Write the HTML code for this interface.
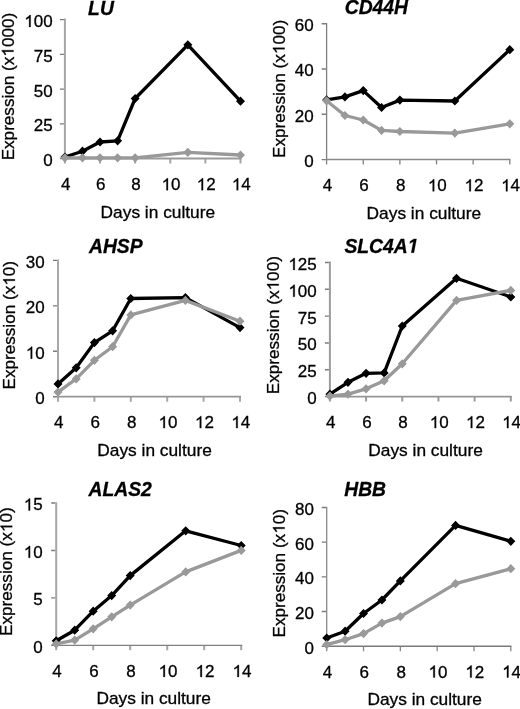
<!DOCTYPE html>
<html><head><meta charset="utf-8"><style>
html,body{margin:0;padding:0;background:#fff;overflow:hidden;}
svg{display:block;will-change:transform;}
text{font-family:"Liberation Sans",sans-serif;font-size:17px;fill:#000;stroke:#000;stroke-width:0.3px;}
text.t{font-weight:bold;font-style:italic;font-size:19.3px;}
g>path{fill:#000;stroke:#000;stroke-width:0.3px;}
svg{font-kerning:none;}
</style></head><body>
<svg width="520" height="709" viewBox="0 0 520 709">
<rect width="520" height="709" fill="#fff"/>
<path d="M64.9 18.6V159.6 M64.9 158.6V163.6 M100.02 158.6V163.6 M135.14 158.6V163.6 M170.26 158.6V163.6 M205.38 158.6V163.6 M240.5 158.6V163.6" fill="none" stroke="#a6a6a6" stroke-width="2"/>
<path d="M64.9 158.6H241.5" fill="none" stroke="#9a9a9a" stroke-width="2"/>
<path d="M59.9 158.6H63.9 M59.9 123.85H63.9 M59.9 89.1H63.9 M59.9 54.35H63.9 M59.9 19.6H63.9" fill="none" stroke="#7c7c7c" stroke-width="1.4"/>
<g transform="translate(52.65 166) scale(1.0 1.02)"><text x="-9.45" y="0">0</text></g>
<g transform="translate(52.65 131.25) scale(1.0 1.02)"><text x="-18.91" y="0">25</text></g>
<g transform="translate(52.65 96.5) scale(1.0 1.02)"><text x="-18.91" y="0">50</text></g>
<g transform="translate(52.65 61.75) scale(1.0 1.02)"><text x="-18.91" y="0">75</text></g>
<g transform="translate(52.65 27) scale(1.0 1.02)"><path d="M-22.03 0L-23.52 0L-23.52 -9.16C-23.88 -8.82 -24.35 -8.49 -24.94 -8.17C-25.52 -7.84 -26.04 -7.59 -26.51 -7.42L-26.51 -8.82C-25.68 -9.19 -24.96 -9.65 -24.34 -10.18C-23.72 -10.71 -23.28 -11.21 -23.02 -11.7L-22.03 -11.7Z"/><text x="-18.91" y="0">00</text></g>
<g transform="translate(65.7 190.2) scale(1.0 1.02)"><text x="-4.73" y="0">4</text></g>
<g transform="translate(100.82 190.2) scale(1.0 1.02)"><text x="-4.73" y="0">6</text></g>
<g transform="translate(135.94 190.2) scale(1.0 1.02)"><text x="-4.73" y="0">8</text></g>
<g transform="translate(171.06 190.2) scale(1.0 1.02)"><path d="M-3.12 0L-4.62 0L-4.62 -9.16C-4.97 -8.82 -5.45 -8.49 -6.03 -8.17C-6.61 -7.84 -7.13 -7.59 -7.6 -7.42L-7.6 -8.82C-6.77 -9.19 -6.05 -9.65 -5.43 -10.18C-4.81 -10.71 -4.37 -11.21 -4.11 -11.7L-3.12 -11.7Z"/><text x="0" y="0">0</text></g>
<g transform="translate(206.18 190.2) scale(1.0 1.02)"><path d="M-3.12 0L-4.62 0L-4.62 -9.16C-4.97 -8.82 -5.45 -8.49 -6.03 -8.17C-6.61 -7.84 -7.13 -7.59 -7.6 -7.42L-7.6 -8.82C-6.77 -9.19 -6.05 -9.65 -5.43 -10.18C-4.81 -10.71 -4.37 -11.21 -4.11 -11.7L-3.12 -11.7Z"/><text x="0" y="0">2</text></g>
<g transform="translate(241.3 190.2) scale(1.0 1.02)"><path d="M-3.12 0L-4.62 0L-4.62 -9.16C-4.97 -8.82 -5.45 -8.49 -6.03 -8.17C-6.61 -7.84 -7.13 -7.59 -7.6 -7.42L-7.6 -8.82C-6.77 -9.19 -6.05 -9.65 -5.43 -10.18C-4.81 -10.71 -4.37 -11.21 -4.11 -11.7L-3.12 -11.7Z"/><text x="0" y="0">4</text></g>
<g transform="translate(88.1 14.6) scale(1.0 1.04)"><text x="0" y="0" class="t">LU</text></g>
<g transform="translate(13.5 86.55) rotate(-90) scale(1.008 1)"><text x="-73.23" y="0">Expression (x</text><path d="M36.08 0L34.59 0L34.59 -9.16C34.23 -8.82 33.76 -8.49 33.18 -8.17C32.6 -7.84 32.07 -7.59 31.6 -7.42L31.6 -8.82C32.43 -9.19 33.15 -9.65 33.78 -10.18C34.4 -10.71 34.84 -11.21 35.1 -11.7L36.08 -11.7Z"/><text x="39.2" y="0">000)</text></g>
<text x="100.6" y="217.8" textLength="114.5" lengthAdjust="spacingAndGlyphs">Days in culture</text>
<polyline points="64.9,157 82.46,151.2 100.02,142 117.58,140.8 135.14,98.5 187.82,44.8 240.5,101.2" fill="none" stroke="#000000" stroke-width="3.3" stroke-linejoin="round"/>
<path d="M64.9 152.4L69.4 157L64.9 161.6L60.4 157Z M82.46 146.6L86.96 151.2L82.46 155.8L77.96 151.2Z M100.02 137.4L104.52 142L100.02 146.6L95.52 142Z M117.58 136.2L122.08 140.8L117.58 145.4L113.08 140.8Z M135.14 93.9L139.64 98.5L135.14 103.1L130.64 98.5Z M187.82 40.2L192.32 44.8L187.82 49.4L183.32 44.8Z M240.5 96.6L245 101.2L240.5 105.8L236 101.2Z" fill="#000000"/>
<polyline points="64.9,157.8 82.46,157.8 100.02,157.8 117.58,157.8 135.14,157.8 187.82,152.3 240.5,155" fill="none" stroke="#999999" stroke-width="3.3" stroke-linejoin="round"/>
<path d="M64.9 153.2L69.4 157.8L64.9 162.4L60.4 157.8Z M82.46 153.2L86.96 157.8L82.46 162.4L77.96 157.8Z M100.02 153.2L104.52 157.8L100.02 162.4L95.52 157.8Z M117.58 153.2L122.08 157.8L117.58 162.4L113.08 157.8Z M135.14 153.2L139.64 157.8L135.14 162.4L130.64 157.8Z M187.82 147.7L192.32 152.3L187.82 156.9L183.32 152.3Z M240.5 150.4L245 155L240.5 159.6L236 155Z" fill="#999999"/>
<path d="M326.6 22.95V160.35 M326.6 159.6V164.6 M363.24 159.6V164.6 M399.88 159.6V164.6 M436.52 159.6V164.6 M473.16 159.6V164.6 M509.8 159.6V164.6" fill="none" stroke="#808080" stroke-width="1.3"/>
<path d="M326.6 159.6H510.45" fill="none" stroke="#888888" stroke-width="1.5"/>
<path d="M321.6 159.6H325.95 M321.6 114.3H325.95 M321.6 69H325.95 M321.6 23.7H325.95" fill="none" stroke="#7c7c7c" stroke-width="1.4"/>
<g transform="translate(313.75 167) scale(1.0 1.02)"><text x="-9.45" y="0">0</text></g>
<g transform="translate(313.75 121.7) scale(1.0 1.02)"><text x="-18.91" y="0">20</text></g>
<g transform="translate(313.75 76.4) scale(1.0 1.02)"><text x="-18.91" y="0">40</text></g>
<g transform="translate(313.75 31.1) scale(1.0 1.02)"><text x="-18.91" y="0">60</text></g>
<g transform="translate(327.4 191.3) scale(1.0 1.02)"><text x="-4.73" y="0">4</text></g>
<g transform="translate(364.04 191.3) scale(1.0 1.02)"><text x="-4.73" y="0">6</text></g>
<g transform="translate(400.68 191.3) scale(1.0 1.02)"><text x="-4.73" y="0">8</text></g>
<g transform="translate(437.32 191.3) scale(1.0 1.02)"><path d="M-3.12 0L-4.62 0L-4.62 -9.16C-4.97 -8.82 -5.45 -8.49 -6.03 -8.17C-6.61 -7.84 -7.13 -7.59 -7.6 -7.42L-7.6 -8.82C-6.77 -9.19 -6.05 -9.65 -5.43 -10.18C-4.81 -10.71 -4.37 -11.21 -4.11 -11.7L-3.12 -11.7Z"/><text x="0" y="0">0</text></g>
<g transform="translate(473.96 191.3) scale(1.0 1.02)"><path d="M-3.12 0L-4.62 0L-4.62 -9.16C-4.97 -8.82 -5.45 -8.49 -6.03 -8.17C-6.61 -7.84 -7.13 -7.59 -7.6 -7.42L-7.6 -8.82C-6.77 -9.19 -6.05 -9.65 -5.43 -10.18C-4.81 -10.71 -4.37 -11.21 -4.11 -11.7L-3.12 -11.7Z"/><text x="0" y="0">2</text></g>
<g transform="translate(510.6 191.3) scale(1.0 1.02)"><path d="M-3.12 0L-4.62 0L-4.62 -9.16C-4.97 -8.82 -5.45 -8.49 -6.03 -8.17C-6.61 -7.84 -7.13 -7.59 -7.6 -7.42L-7.6 -8.82C-6.77 -9.19 -6.05 -9.65 -5.43 -10.18C-4.81 -10.71 -4.37 -11.21 -4.11 -11.7L-3.12 -11.7Z"/><text x="0" y="0">4</text></g>
<g transform="translate(344.7 14.4) scale(1.0 1.04)"><text x="0" y="0" class="t">CD44H</text></g>
<g transform="translate(284.6 88.85) rotate(-90) scale(1.008 1)"><text x="-68.5" y="0">Expression (x</text><path d="M40.81 0L39.32 0L39.32 -9.16C38.96 -8.82 38.49 -8.49 37.91 -8.17C37.32 -7.84 36.8 -7.59 36.33 -7.42L36.33 -8.82C37.16 -9.19 37.88 -9.65 38.5 -10.18C39.13 -10.71 39.57 -11.21 39.82 -11.7L40.81 -11.7Z"/><text x="43.93" y="0">00)</text></g>
<text x="366.6" y="218.8" textLength="114.5" lengthAdjust="spacingAndGlyphs">Days in culture</text>
<polyline points="326.6,99.9 344.92,96.9 363.24,90.6 381.56,107.5 399.88,100.1 454.84,101 509.8,49.7" fill="none" stroke="#000000" stroke-width="3.3" stroke-linejoin="round"/>
<path d="M326.6 95.3L331.1 99.9L326.6 104.5L322.1 99.9Z M344.92 92.3L349.42 96.9L344.92 101.5L340.42 96.9Z M363.24 86L367.74 90.6L363.24 95.2L358.74 90.6Z M381.56 102.9L386.06 107.5L381.56 112.1L377.06 107.5Z M399.88 95.5L404.38 100.1L399.88 104.7L395.38 100.1Z M454.84 96.4L459.34 101L454.84 105.6L450.34 101Z M509.8 45.1L514.3 49.7L509.8 54.3L505.3 49.7Z" fill="#000000"/>
<polyline points="326.6,100.8 344.92,115.5 363.24,120 381.56,130.4 399.88,131.5 454.84,133.1 509.8,123.8" fill="none" stroke="#999999" stroke-width="3.3" stroke-linejoin="round"/>
<path d="M326.6 96.2L331.1 100.8L326.6 105.4L322.1 100.8Z M344.92 110.9L349.42 115.5L344.92 120.1L340.42 115.5Z M363.24 115.4L367.74 120L363.24 124.6L358.74 120Z M381.56 125.8L386.06 130.4L381.56 135L377.06 130.4Z M399.88 126.9L404.38 131.5L399.88 136.1L395.38 131.5Z M454.84 128.5L459.34 133.1L454.84 137.7L450.34 133.1Z M509.8 119.2L514.3 123.8L509.8 128.4L505.3 123.8Z" fill="#999999"/>
<path d="M58 259.5V397.6 M58 396.7V401.7 M94.4 396.7V401.7 M130.8 396.7V401.7 M167.2 396.7V401.7 M203.6 396.7V401.7 M240 396.7V401.7" fill="none" stroke="#a8a8a8" stroke-width="2"/>
<path d="M58 396.7H241" fill="none" stroke="#969696" stroke-width="1.8"/>
<path d="M53 396.7H57 M53 351.27H57 M53 305.83H57 M53 260.4H57" fill="none" stroke="#7c7c7c" stroke-width="1.4"/>
<g transform="translate(44.75 404.1) scale(1.0 1.02)"><text x="-9.45" y="0">0</text></g>
<g transform="translate(44.75 358.67) scale(1.0 1.02)"><path d="M-12.58 0L-14.07 0L-14.07 -9.16C-14.43 -8.82 -14.9 -8.49 -15.48 -8.17C-16.06 -7.84 -16.58 -7.59 -17.06 -7.42L-17.06 -8.82C-16.23 -9.19 -15.51 -9.65 -14.88 -10.18C-14.26 -10.71 -13.82 -11.21 -13.56 -11.7L-12.58 -11.7Z"/><text x="-9.45" y="0">0</text></g>
<g transform="translate(44.75 313.23) scale(1.0 1.02)"><text x="-18.91" y="0">20</text></g>
<g transform="translate(44.75 267.8) scale(1.0 1.02)"><text x="-18.91" y="0">30</text></g>
<g transform="translate(58.8 428.1) scale(1.0 1.02)"><text x="-4.73" y="0">4</text></g>
<g transform="translate(95.2 428.1) scale(1.0 1.02)"><text x="-4.73" y="0">6</text></g>
<g transform="translate(131.6 428.1) scale(1.0 1.02)"><text x="-4.73" y="0">8</text></g>
<g transform="translate(168 428.1) scale(1.0 1.02)"><path d="M-3.12 0L-4.62 0L-4.62 -9.16C-4.97 -8.82 -5.45 -8.49 -6.03 -8.17C-6.61 -7.84 -7.13 -7.59 -7.6 -7.42L-7.6 -8.82C-6.77 -9.19 -6.05 -9.65 -5.43 -10.18C-4.81 -10.71 -4.37 -11.21 -4.11 -11.7L-3.12 -11.7Z"/><text x="0" y="0">0</text></g>
<g transform="translate(204.4 428.1) scale(1.0 1.02)"><path d="M-3.12 0L-4.62 0L-4.62 -9.16C-4.97 -8.82 -5.45 -8.49 -6.03 -8.17C-6.61 -7.84 -7.13 -7.59 -7.6 -7.42L-7.6 -8.82C-6.77 -9.19 -6.05 -9.65 -5.43 -10.18C-4.81 -10.71 -4.37 -11.21 -4.11 -11.7L-3.12 -11.7Z"/><text x="0" y="0">2</text></g>
<g transform="translate(240.8 428.1) scale(1.0 1.02)"><path d="M-3.12 0L-4.62 0L-4.62 -9.16C-4.97 -8.82 -5.45 -8.49 -6.03 -8.17C-6.61 -7.84 -7.13 -7.59 -7.6 -7.42L-7.6 -8.82C-6.77 -9.19 -6.05 -9.65 -5.43 -10.18C-4.81 -10.71 -4.37 -11.21 -4.11 -11.7L-3.12 -11.7Z"/><text x="0" y="0">4</text></g>
<g transform="translate(89 252.9) scale(1.0 1.04)"><text x="0" y="0" class="t">AHSP</text></g>
<g transform="translate(14.9 325.2) rotate(-90) scale(1.008 1)"><text x="-63.77" y="0">Expression (x</text><path d="M45.54 0L44.04 0L44.04 -9.16C43.69 -8.82 43.21 -8.49 42.63 -8.17C42.05 -7.84 41.53 -7.59 41.06 -7.42L41.06 -8.82C41.89 -9.19 42.61 -9.65 43.23 -10.18C43.85 -10.71 44.29 -11.21 44.55 -11.7L45.54 -11.7Z"/><text x="48.66" y="0">0)</text></g>
<text x="97.3" y="455.9" textLength="114.5" lengthAdjust="spacingAndGlyphs">Days in culture</text>
<polyline points="58,383.9 76.2,367.8 94.4,342.6 112.6,330.8 130.8,298.5 185.4,297.6 240,327.6" fill="none" stroke="#000000" stroke-width="3.3" stroke-linejoin="round"/>
<path d="M58 379.3L62.5 383.9L58 388.5L53.5 383.9Z M76.2 363.2L80.7 367.8L76.2 372.4L71.7 367.8Z M94.4 338L98.9 342.6L94.4 347.2L89.9 342.6Z M112.6 326.2L117.1 330.8L112.6 335.4L108.1 330.8Z M130.8 293.9L135.3 298.5L130.8 303.1L126.3 298.5Z M185.4 293L189.9 297.6L185.4 302.2L180.9 297.6Z M240 323L244.5 327.6L240 332.2L235.5 327.6Z" fill="#000000"/>
<polyline points="58,392.1 76.2,378.9 94.4,360.3 112.6,346.7 130.8,314.9 185.4,300.4 240,321.2" fill="none" stroke="#999999" stroke-width="3.3" stroke-linejoin="round"/>
<path d="M58 387.5L62.5 392.1L58 396.7L53.5 392.1Z M76.2 374.3L80.7 378.9L76.2 383.5L71.7 378.9Z M94.4 355.7L98.9 360.3L94.4 364.9L89.9 360.3Z M112.6 342.1L117.1 346.7L112.6 351.3L108.1 346.7Z M130.8 310.3L135.3 314.9L130.8 319.5L126.3 314.9Z M185.4 295.8L189.9 300.4L185.4 305L180.9 300.4Z M240 316.6L244.5 321.2L240 325.8L235.5 321.2Z" fill="#999999"/>
<path d="M329.9 261.6V397.5 M329.9 396.6V401.6 M366.08 396.6V401.6 M402.26 396.6V401.6 M438.44 396.6V401.6 M474.62 396.6V401.6 M510.8 396.6V401.6" fill="none" stroke="#9c9c9c" stroke-width="2"/>
<path d="M329.9 396.6H511.8" fill="none" stroke="#969696" stroke-width="1.8"/>
<path d="M324.9 396.6H328.9 M324.9 369.78H328.9 M324.9 342.96H328.9 M324.9 316.14H328.9 M324.9 289.32H328.9 M324.9 262.5H328.9" fill="none" stroke="#7c7c7c" stroke-width="1.4"/>
<g transform="translate(316.75 404) scale(1.0 1.02)"><text x="-9.45" y="0">0</text></g>
<g transform="translate(316.75 377.18) scale(1.0 1.02)"><text x="-18.91" y="0">25</text></g>
<g transform="translate(316.75 350.36) scale(1.0 1.02)"><text x="-18.91" y="0">50</text></g>
<g transform="translate(316.75 323.54) scale(1.0 1.02)"><text x="-18.91" y="0">75</text></g>
<g transform="translate(316.75 296.72) scale(1.0 1.02)"><path d="M-22.03 0L-23.52 0L-23.52 -9.16C-23.88 -8.82 -24.35 -8.49 -24.94 -8.17C-25.52 -7.84 -26.04 -7.59 -26.51 -7.42L-26.51 -8.82C-25.68 -9.19 -24.96 -9.65 -24.34 -10.18C-23.72 -10.71 -23.28 -11.21 -23.02 -11.7L-22.03 -11.7Z"/><text x="-18.91" y="0">00</text></g>
<g transform="translate(316.75 269.9) scale(1.0 1.02)"><path d="M-22.03 0L-23.52 0L-23.52 -9.16C-23.88 -8.82 -24.35 -8.49 -24.94 -8.17C-25.52 -7.84 -26.04 -7.59 -26.51 -7.42L-26.51 -8.82C-25.68 -9.19 -24.96 -9.65 -24.34 -10.18C-23.72 -10.71 -23.28 -11.21 -23.02 -11.7L-22.03 -11.7Z"/><text x="-18.91" y="0">25</text></g>
<g transform="translate(330.7 428.1) scale(1.0 1.02)"><text x="-4.73" y="0">4</text></g>
<g transform="translate(366.88 428.1) scale(1.0 1.02)"><text x="-4.73" y="0">6</text></g>
<g transform="translate(403.06 428.1) scale(1.0 1.02)"><text x="-4.73" y="0">8</text></g>
<g transform="translate(439.24 428.1) scale(1.0 1.02)"><path d="M-3.12 0L-4.62 0L-4.62 -9.16C-4.97 -8.82 -5.45 -8.49 -6.03 -8.17C-6.61 -7.84 -7.13 -7.59 -7.6 -7.42L-7.6 -8.82C-6.77 -9.19 -6.05 -9.65 -5.43 -10.18C-4.81 -10.71 -4.37 -11.21 -4.11 -11.7L-3.12 -11.7Z"/><text x="0" y="0">0</text></g>
<g transform="translate(475.42 428.1) scale(1.0 1.02)"><path d="M-3.12 0L-4.62 0L-4.62 -9.16C-4.97 -8.82 -5.45 -8.49 -6.03 -8.17C-6.61 -7.84 -7.13 -7.59 -7.6 -7.42L-7.6 -8.82C-6.77 -9.19 -6.05 -9.65 -5.43 -10.18C-4.81 -10.71 -4.37 -11.21 -4.11 -11.7L-3.12 -11.7Z"/><text x="0" y="0">2</text></g>
<g transform="translate(511.6 428.1) scale(1.0 1.02)"><path d="M-3.12 0L-4.62 0L-4.62 -9.16C-4.97 -8.82 -5.45 -8.49 -6.03 -8.17C-6.61 -7.84 -7.13 -7.59 -7.6 -7.42L-7.6 -8.82C-6.77 -9.19 -6.05 -9.65 -5.43 -10.18C-4.81 -10.71 -4.37 -11.21 -4.11 -11.7L-3.12 -11.7Z"/><text x="0" y="0">4</text></g>
<g transform="translate(344.4 252.7) scale(1.0 1.04)"><text x="0" y="0" class="t">SLC4A</text><path d="M66.85 0L68.96 -10.86L65.37 -8.84L65.82 -11.12L69.55 -13.28L72.09 -13.28L69.5 0Z"/></g>
<g transform="translate(278.7 325.15) rotate(-90) scale(1.008 1)"><text x="-68.5" y="0">Expression (x</text><path d="M40.81 0L39.32 0L39.32 -9.16C38.96 -8.82 38.49 -8.49 37.91 -8.17C37.32 -7.84 36.8 -7.59 36.33 -7.42L36.33 -8.82C37.16 -9.19 37.88 -9.65 38.5 -10.18C39.13 -10.71 39.57 -11.21 39.82 -11.7L40.81 -11.7Z"/><text x="43.93" y="0">00)</text></g>
<text x="368.3" y="455.9" textLength="114.5" lengthAdjust="spacingAndGlyphs">Days in culture</text>
<polyline points="329.9,394.2 347.99,382.3 366.08,373.3 384.17,372.9 402.26,326 456.53,278.3 510.8,296.9" fill="none" stroke="#000000" stroke-width="3.3" stroke-linejoin="round"/>
<path d="M329.9 389.6L334.4 394.2L329.9 398.8L325.4 394.2Z M347.99 377.7L352.49 382.3L347.99 386.9L343.49 382.3Z M366.08 368.7L370.58 373.3L366.08 377.9L361.58 373.3Z M384.17 368.3L388.67 372.9L384.17 377.5L379.67 372.9Z M402.26 321.4L406.76 326L402.26 330.6L397.76 326Z M456.53 273.7L461.03 278.3L456.53 282.9L452.03 278.3Z M510.8 292.3L515.3 296.9L510.8 301.5L506.3 296.9Z" fill="#000000"/>
<polyline points="329.9,396.1 347.99,394.2 366.08,388.8 384.17,380.8 402.26,363.8 456.53,300.4 510.8,290.4" fill="none" stroke="#999999" stroke-width="3.3" stroke-linejoin="round"/>
<path d="M329.9 391.5L334.4 396.1L329.9 400.7L325.4 396.1Z M347.99 389.6L352.49 394.2L347.99 398.8L343.49 394.2Z M366.08 384.2L370.58 388.8L366.08 393.4L361.58 388.8Z M384.17 376.2L388.67 380.8L384.17 385.4L379.67 380.8Z M402.26 359.2L406.76 363.8L402.26 368.4L397.76 363.8Z M456.53 295.8L461.03 300.4L456.53 305L452.03 300.4Z M510.8 285.8L515.3 290.4L510.8 295L506.3 290.4Z" fill="#999999"/>
<path d="M56.2 502.35V645.95 M56.2 645.3V650.3 M93.2 645.3V650.3 M130.2 645.3V650.3 M167.2 645.3V650.3 M204.2 645.3V650.3 M241.2 645.3V650.3" fill="none" stroke="#a6a6a6" stroke-width="2"/>
<path d="M56.2 645.3H242.2" fill="none" stroke="#808080" stroke-width="1.3"/>
<path d="M51.2 645.3H55.2 M51.2 597.87H55.2 M51.2 550.43H55.2 M51.2 503H55.2" fill="none" stroke="#7c7c7c" stroke-width="1.4"/>
<g transform="translate(42.65 652.7) scale(1.0 1.02)"><text x="-9.45" y="0">0</text></g>
<g transform="translate(42.65 605.27) scale(1.0 1.02)"><text x="-9.45" y="0">5</text></g>
<g transform="translate(42.65 557.83) scale(1.0 1.02)"><path d="M-12.58 0L-14.07 0L-14.07 -9.16C-14.43 -8.82 -14.9 -8.49 -15.48 -8.17C-16.06 -7.84 -16.58 -7.59 -17.06 -7.42L-17.06 -8.82C-16.23 -9.19 -15.51 -9.65 -14.88 -10.18C-14.26 -10.71 -13.82 -11.21 -13.56 -11.7L-12.58 -11.7Z"/><text x="-9.45" y="0">0</text></g>
<g transform="translate(42.65 510.4) scale(1.0 1.02)"><path d="M-12.58 0L-14.07 0L-14.07 -9.16C-14.43 -8.82 -14.9 -8.49 -15.48 -8.17C-16.06 -7.84 -16.58 -7.59 -17.06 -7.42L-17.06 -8.82C-16.23 -9.19 -15.51 -9.65 -14.88 -10.18C-14.26 -10.71 -13.82 -11.21 -13.56 -11.7L-12.58 -11.7Z"/><text x="-9.45" y="0">5</text></g>
<g transform="translate(57 676.9) scale(1.0 1.02)"><text x="-4.73" y="0">4</text></g>
<g transform="translate(94 676.9) scale(1.0 1.02)"><text x="-4.73" y="0">6</text></g>
<g transform="translate(131 676.9) scale(1.0 1.02)"><text x="-4.73" y="0">8</text></g>
<g transform="translate(168 676.9) scale(1.0 1.02)"><path d="M-3.12 0L-4.62 0L-4.62 -9.16C-4.97 -8.82 -5.45 -8.49 -6.03 -8.17C-6.61 -7.84 -7.13 -7.59 -7.6 -7.42L-7.6 -8.82C-6.77 -9.19 -6.05 -9.65 -5.43 -10.18C-4.81 -10.71 -4.37 -11.21 -4.11 -11.7L-3.12 -11.7Z"/><text x="0" y="0">0</text></g>
<g transform="translate(205 676.9) scale(1.0 1.02)"><path d="M-3.12 0L-4.62 0L-4.62 -9.16C-4.97 -8.82 -5.45 -8.49 -6.03 -8.17C-6.61 -7.84 -7.13 -7.59 -7.6 -7.42L-7.6 -8.82C-6.77 -9.19 -6.05 -9.65 -5.43 -10.18C-4.81 -10.71 -4.37 -11.21 -4.11 -11.7L-3.12 -11.7Z"/><text x="0" y="0">2</text></g>
<g transform="translate(242 676.9) scale(1.0 1.02)"><path d="M-3.12 0L-4.62 0L-4.62 -9.16C-4.97 -8.82 -5.45 -8.49 -6.03 -8.17C-6.61 -7.84 -7.13 -7.59 -7.6 -7.42L-7.6 -8.82C-6.77 -9.19 -6.05 -9.65 -5.43 -10.18C-4.81 -10.71 -4.37 -11.21 -4.11 -11.7L-3.12 -11.7Z"/><text x="0" y="0">4</text></g>
<g transform="translate(88.5 495.8) scale(1.0 1.04)"><text x="0" y="0" class="t">ALAS2</text></g>
<g transform="translate(12.2 571.65) rotate(-90) scale(1.008 1)"><text x="-63.77" y="0">Expression (x</text><path d="M45.54 0L44.04 0L44.04 -9.16C43.69 -8.82 43.21 -8.49 42.63 -8.17C42.05 -7.84 41.53 -7.59 41.06 -7.42L41.06 -8.82C41.89 -9.19 42.61 -9.65 43.23 -10.18C43.85 -10.71 44.29 -11.21 44.55 -11.7L45.54 -11.7Z"/><text x="48.66" y="0">0)</text></g>
<text x="96.4" y="704" textLength="114.5" lengthAdjust="spacingAndGlyphs">Days in culture</text>
<polyline points="56.2,640.8 74.7,630.2 93.2,611.2 111.7,595.6 130.2,575.6 185.7,530.8 241.2,545.5" fill="none" stroke="#000000" stroke-width="3.3" stroke-linejoin="round"/>
<path d="M56.2 636.2L60.7 640.8L56.2 645.4L51.7 640.8Z M74.7 625.6L79.2 630.2L74.7 634.8L70.2 630.2Z M93.2 606.6L97.7 611.2L93.2 615.8L88.7 611.2Z M111.7 591L116.2 595.6L111.7 600.2L107.2 595.6Z M130.2 571L134.7 575.6L130.2 580.2L125.7 575.6Z M185.7 526.2L190.2 530.8L185.7 535.4L181.2 530.8Z M241.2 540.9L245.7 545.5L241.2 550.1L236.7 545.5Z" fill="#000000"/>
<polyline points="56.2,643.9 74.7,640.1 93.2,628.8 111.7,616.8 130.2,605.1 185.7,571.9 241.2,550.4" fill="none" stroke="#999999" stroke-width="3.3" stroke-linejoin="round"/>
<path d="M56.2 639.3L60.7 643.9L56.2 648.5L51.7 643.9Z M74.7 635.5L79.2 640.1L74.7 644.7L70.2 640.1Z M93.2 624.2L97.7 628.8L93.2 633.4L88.7 628.8Z M111.7 612.2L116.2 616.8L111.7 621.4L107.2 616.8Z M130.2 600.5L134.7 605.1L130.2 609.7L125.7 605.1Z M185.7 567.3L190.2 571.9L185.7 576.5L181.2 571.9Z M241.2 545.8L245.7 550.4L241.2 555L236.7 550.4Z" fill="#999999"/>
<path d="M326.7 506.75V646.95 M326.7 646.2V651.2 M363.52 646.2V651.2 M400.34 646.2V651.2 M437.16 646.2V651.2 M473.98 646.2V651.2 M510.8 646.2V651.2" fill="none" stroke="#888888" stroke-width="1.3"/>
<path d="M326.7 646.2H511.45" fill="none" stroke="#7a7a7a" stroke-width="1.5"/>
<path d="M321.7 646.2H326.05 M321.7 611.53H326.05 M321.7 576.85H326.05 M321.7 542.17H326.05 M321.7 507.5H326.05" fill="none" stroke="#7c7c7c" stroke-width="1.4"/>
<g transform="translate(313.85 653.6) scale(1.0 1.02)"><text x="-9.45" y="0">0</text></g>
<g transform="translate(313.85 618.93) scale(1.0 1.02)"><text x="-18.91" y="0">20</text></g>
<g transform="translate(313.85 584.25) scale(1.0 1.02)"><text x="-18.91" y="0">40</text></g>
<g transform="translate(313.85 549.57) scale(1.0 1.02)"><text x="-18.91" y="0">60</text></g>
<g transform="translate(313.85 514.9) scale(1.0 1.02)"><text x="-18.91" y="0">80</text></g>
<g transform="translate(327.5 677.5) scale(1.0 1.02)"><text x="-4.73" y="0">4</text></g>
<g transform="translate(364.32 677.5) scale(1.0 1.02)"><text x="-4.73" y="0">6</text></g>
<g transform="translate(401.14 677.5) scale(1.0 1.02)"><text x="-4.73" y="0">8</text></g>
<g transform="translate(437.96 677.5) scale(1.0 1.02)"><path d="M-3.12 0L-4.62 0L-4.62 -9.16C-4.97 -8.82 -5.45 -8.49 -6.03 -8.17C-6.61 -7.84 -7.13 -7.59 -7.6 -7.42L-7.6 -8.82C-6.77 -9.19 -6.05 -9.65 -5.43 -10.18C-4.81 -10.71 -4.37 -11.21 -4.11 -11.7L-3.12 -11.7Z"/><text x="0" y="0">0</text></g>
<g transform="translate(474.78 677.5) scale(1.0 1.02)"><path d="M-3.12 0L-4.62 0L-4.62 -9.16C-4.97 -8.82 -5.45 -8.49 -6.03 -8.17C-6.61 -7.84 -7.13 -7.59 -7.6 -7.42L-7.6 -8.82C-6.77 -9.19 -6.05 -9.65 -5.43 -10.18C-4.81 -10.71 -4.37 -11.21 -4.11 -11.7L-3.12 -11.7Z"/><text x="0" y="0">2</text></g>
<g transform="translate(511.6 677.5) scale(1.0 1.02)"><path d="M-3.12 0L-4.62 0L-4.62 -9.16C-4.97 -8.82 -5.45 -8.49 -6.03 -8.17C-6.61 -7.84 -7.13 -7.59 -7.6 -7.42L-7.6 -8.82C-6.77 -9.19 -6.05 -9.65 -5.43 -10.18C-4.81 -10.71 -4.37 -11.21 -4.11 -11.7L-3.12 -11.7Z"/><text x="0" y="0">4</text></g>
<g transform="translate(344.2 495.8) scale(1.0 1.04)"><text x="0" y="0" class="t">HBB</text></g>
<g transform="translate(284.6 573.25) rotate(-90) scale(1.008 1)"><text x="-63.77" y="0">Expression (x</text><path d="M45.54 0L44.04 0L44.04 -9.16C43.69 -8.82 43.21 -8.49 42.63 -8.17C42.05 -7.84 41.53 -7.59 41.06 -7.42L41.06 -8.82C41.89 -9.19 42.61 -9.65 43.23 -10.18C43.85 -10.71 44.29 -11.21 44.55 -11.7L45.54 -11.7Z"/><text x="48.66" y="0">0)</text></g>
<text x="367.4" y="705" textLength="114.5" lengthAdjust="spacingAndGlyphs">Days in culture</text>
<polyline points="326.7,638 345.11,631.2 363.52,613.5 381.93,600 400.34,580.9 455.57,525.4 510.8,541.3" fill="none" stroke="#000000" stroke-width="3.3" stroke-linejoin="round"/>
<path d="M326.7 633.4L331.2 638L326.7 642.6L322.2 638Z M345.11 626.6L349.61 631.2L345.11 635.8L340.61 631.2Z M363.52 608.9L368.02 613.5L363.52 618.1L359.02 613.5Z M381.93 595.4L386.43 600L381.93 604.6L377.43 600Z M400.34 576.3L404.84 580.9L400.34 585.5L395.84 580.9Z M455.57 520.8L460.07 525.4L455.57 530L451.07 525.4Z M510.8 536.7L515.3 541.3L510.8 545.9L506.3 541.3Z" fill="#000000"/>
<polyline points="326.7,644.6 345.11,639.7 363.52,633.6 381.93,623.1 400.34,616.6 455.57,583.7 510.8,568.7" fill="none" stroke="#999999" stroke-width="3.3" stroke-linejoin="round"/>
<path d="M326.7 640L331.2 644.6L326.7 649.2L322.2 644.6Z M345.11 635.1L349.61 639.7L345.11 644.3L340.61 639.7Z M363.52 629L368.02 633.6L363.52 638.2L359.02 633.6Z M381.93 618.5L386.43 623.1L381.93 627.7L377.43 623.1Z M400.34 612L404.84 616.6L400.34 621.2L395.84 616.6Z M455.57 579.1L460.07 583.7L455.57 588.3L451.07 583.7Z M510.8 564.1L515.3 568.7L510.8 573.3L506.3 568.7Z" fill="#999999"/>
</svg>
</body></html>
